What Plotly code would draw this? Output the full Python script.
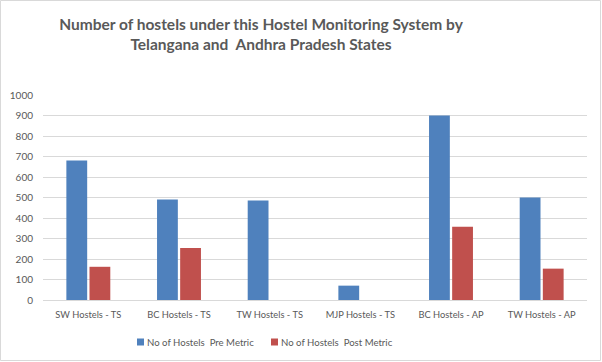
import plotly.graph_objects as go

categories = ["SW Hostels - TS", "BC Hostels - TS", "TW Hostels - TS",
              "MJP Hostels - TS", "BC Hostels - AP", "TW Hostels - AP"]
pre_metric = [680, 490, 485, 70, 900, 500]
post_metric = [162, 254, 0, 0, 357, 153]
y_ticks = [0, 100, 200, 300, 400, 500, 600, 700, 800, 900, 1000]
series_names = ["No of Hostels  Pre Metric", "No of Hostels  Post Metric"]
series_colors = ["#4F81BD", "#C0504D"]

FONT = "Lato, sans-serif"
W, H = 602, 362
L, R, T, B = 43, 15, 95, 62
PW, PH = W - L - R, H - T - B


def px_x(x):
    return (x - L) / PW


def px_y(y):
    return (T + PH - y) / PH


fig = go.Figure()
for name, vals, col in zip(series_names, [pre_metric, post_metric], series_colors):
    fig.add_trace(go.Bar(x=categories, y=vals, name=name,
                         marker=dict(color=col, line=dict(width=0))))

# legend drawn as small squares + text (Excel-like compact legend)
shapes = [dict(type="rect", xref="paper", yref="paper",
               x0=px_x(0.5), x1=px_x(W - 1.5), y0=px_y(H - 1.5), y1=px_y(0.5),
               line=dict(color="#D9D9D9", width=1))]
annotations = []
legend_x = [137, 271]
for lx, name, col in zip(legend_x, series_names, series_colors):
    shapes.append(dict(type="rect", xref="paper", yref="paper",
                       x0=px_x(lx), x1=px_x(lx + 7), y0=px_y(345.5), y1=px_y(338.5),
                       fillcolor=col, line=dict(width=0)))
    annotations.append(dict(text=name, xref="paper", yref="paper",
                            x=px_x(lx + 7.5), y=px_y(342), xanchor="left", yanchor="middle",
                            showarrow=False,
                            font=dict(size=9.6, color="#595959", family=FONT)))

fig.update_layout(
    width=W, height=H,
    margin=dict(l=L, r=R, t=T, b=B, autoexpand=False),
    paper_bgcolor="white", plot_bgcolor="white",
    font=dict(family=FONT, color="#595959", size=10),
    title=dict(text="<b>Number of hostels under this Hostel Monitoring System by<br>Telangana and  Andhra Pradesh States</b>",
               xref="container", yref="container",
               x=261 / W, xanchor="center", y=1 - 30 / H, yanchor="middle",
               font=dict(size=15.5, color="#595959", family=FONT)),
    barmode="group", bargap=0.49, bargroupgap=0.1,
    showlegend=False,
    xaxis=dict(showgrid=False, showline=True, linecolor="#D9D9D9", linewidth=1,
               ticks="", automargin=False, ticklabelstandoff=6,
               tickfont=dict(size=9.3, color="#595959", family=FONT)),
    yaxis=dict(range=[0, 1000], tickvals=y_ticks, showgrid=True, gridcolor="#D9D9D9",
               gridwidth=1, zeroline=False, showline=False, ticks="", automargin=False,
               ticklabelstandoff=9,
               tickfont=dict(size=10, color="#595959", family=FONT)),
    shapes=shapes,
    annotations=annotations,
)

fig.write_html("out.html", config={"displayModeBar": False},
               post_script="document.body.style.margin='0';document.body.style.padding='0';")
